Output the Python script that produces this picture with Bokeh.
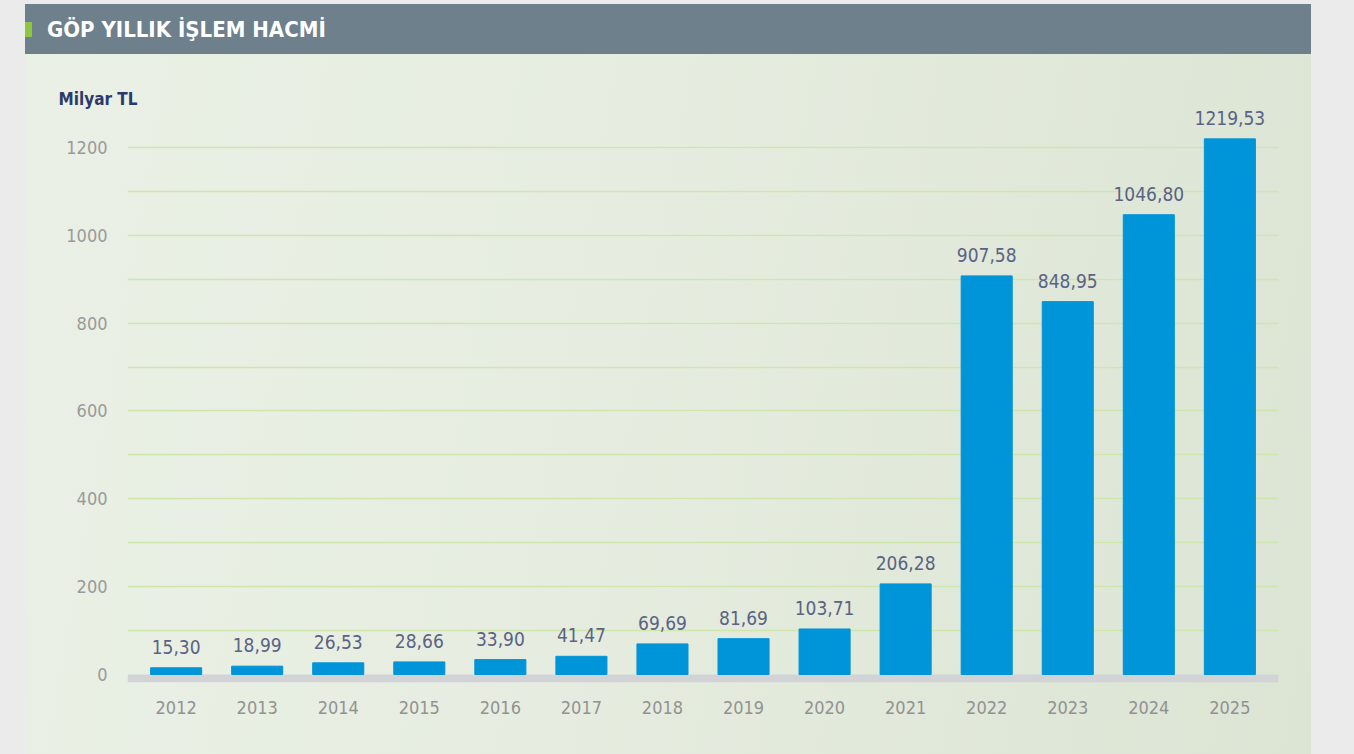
from bokeh.plotting import figure
from bokeh.models import (ColumnDataSource, FactorRange, Range1d, SingleIntervalTicker,
                          FixedTicker, BoxAnnotation, Spacer, Div)
from bokeh.layouts import row, column
from bokeh.core.properties import value
from bokeh.embed import file_html
from bokeh.resources import INLINE

years = ["2012", "2013", "2014", "2015", "2016", "2017", "2018",
         "2019", "2020", "2021", "2022", "2023", "2024", "2025"]
volumes = [15.30, 18.99, 26.53, 28.66, 33.90, 41.47, 69.69,
           81.69, 103.71, 206.28, 907.58, 848.95, 1046.80, 1219.53]
labels = [f"{v:.2f}".replace(".", ",") for v in volumes]

title_text = "GÖP YILLIK İŞLEM HACMİ"
unit_text = "Milyar TL"

FONT = "DejaVu Sans Condensed, Liberation Sans Narrow, sans-serif"
W = 1286

# ---------------- header band ----------------
band_html = (
    '<div style="position:relative;width:%dpx;height:50px;">'
    '<span style="position:absolute;left:0;top:18px;width:7px;height:15px;'
    'background:#8dc63f;"></span>'
    '<span style="position:absolute;left:22px;top:0;line-height:52px;'
    "font-family:'DejaVu Sans Condensed',sans-serif;font-weight:bold;font-size:22px;"
    'color:#ffffff;white-space:nowrap;">%s</span></div>' % (W, title_text)
)
header = Div(text=band_html, width=W, height=50,
             styles={"background-color": "#6e808c", "padding": "0", "margin": "0",
                     "overflow": "hidden"})

# ---------------- chart ----------------
y_start, y_end = -18.2, 1286.4
source = ColumnDataSource(dict(year=years, volume=volumes, label=labels))

p = figure(width=W, height=700, output_backend="svg", toolbar_location=None,
           x_range=FactorRange(*years, range_padding=0.1, range_padding_units="absolute"),
           y_range=Range1d(y_start, y_end),
           min_border_left=102, min_border_right=33, min_border_top=55, min_border_bottom=72,
           styles={"background": "linear-gradient(100deg, #eaf0e5 0%, #e6ede0 45%, "
                                 "#dfe7d8 80%, #dce4d4 100%)"})

p.title.text = unit_text
p.title.align = "left"
p.title.offset = -69
p.title.standoff = 2
p.title.text_font = FONT
p.title.text_font_size = "17px"
p.title.text_font_style = "bold"
p.title.text_color = "#2b3a6b"

p.background_fill_alpha = 0
p.border_fill_alpha = 0
p.outline_line_color = None

p.xgrid.grid_line_color = None
p.ygrid.ticker = FixedTicker(ticks=list(range(100, 1300, 100)))
p.ygrid.grid_line_color = "#cfe5ae"
p.ygrid.grid_line_width = 1.5

p.add_layout(BoxAnnotation(top=0, bottom=y_start, fill_color="#d2d3d6", fill_alpha=1,
                           line_color=None, level="underlay"))

p.vbar(x="year", top="volume", width=0.63, source=source, color="#0094d8")
p.text(x="year", y="volume", text="label", source=source, text_align="center",
       text_baseline="bottom", y_offset=-14, text_font=value(FONT),
       text_font_size="19px", text_color="#5a6384")

for ax in (p.xaxis, p.yaxis):
    ax.axis_line_color = None
    ax.major_tick_line_color = None
    ax.minor_tick_line_color = None
    ax.major_label_text_font = FONT
    ax.major_label_text_font_size = "18px"
p.xaxis.major_label_text_color = "#929292"
p.yaxis.major_label_text_color = "#9a9a9a"
p.xaxis.major_label_standoff = 12
p.yaxis.major_label_standoff = 14
p.yaxis.ticker = SingleIntervalTicker(interval=200)

layout = row(Spacer(width=25), column(Spacer(height=4), header, p))

html = file_html(layout, INLINE)
html = html.replace("</head>", "<style>html, body {background-color:#ebebeb;}</style></head>", 1)
open("out.html", "w").write(html)
